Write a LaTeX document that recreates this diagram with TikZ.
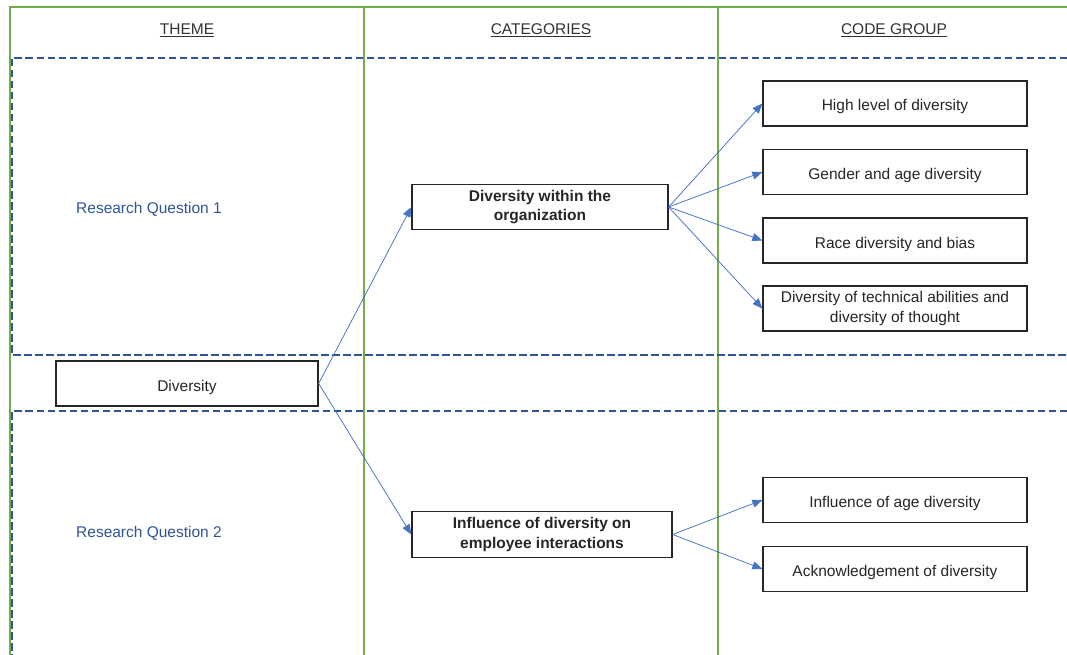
\documentclass[tikz,border=0pt]{standalone}
\usepackage{fontspec}
\setmainfont{Liberation Sans}
\usetikzlibrary{arrows.meta}
\definecolor{frameGreen}{HTML}{70AD47}
\definecolor{dashBlue}{HTML}{2F5597}
\definecolor{arrowBlue}{HTML}{4472C4}
\definecolor{headGray}{HTML}{333333}
\definecolor{textGray}{HTML}{262626}
\tikzset{
  txt/.style={font=\fontsize{15.5}{19.5}\selectfont},
  box/.style={txt, text=textGray, draw=black!85, line width=1.3pt, fill=white, align=center, inner sep=2pt},
  single/.style={text height=15pt, text depth=0pt},
  codebox/.style={box, minimum width=264pt, minimum height=45pt},
  catbox/.style={box, minimum height=45.5pt, font=\fontsize{15.5}{19.5}\selectfont\bfseries},
  greenline/.style={draw=frameGreen, line width=1.6pt},
  bluedash/.style={draw=dashBlue, line width=1.9pt, dash pattern=on 7.5pt off 3.5pt},
  conn/.style={draw=arrowBlue, line width=0.75pt, -{Triangle[length=10pt,width=8pt]}},
  header/.style={txt, text=headGray, anchor=base},
  rq/.style={txt, text=dashBlue, anchor=base}
}
\begin{document}
\begin{tikzpicture}[x=1pt,y=-1pt]
\useasboundingbox (0,0) rectangle (1067,655);
\fill[white] (0,0) rectangle (1067,655);
% green frame
\draw[greenline] (1067,7) -- (10,7) -- (10,655);
\draw[greenline] (364,7) -- (364,655);
\draw[greenline] (718,7) -- (718,655);
% dashed research-question regions
\draw[bluedash] (1067,58) -- (12,58) -- (12,355) -- (1067,355);
\draw[bluedash] (1067,411) -- (12,411) -- (12,655);
% headers
\node[header] (hTheme) at (187,35) {\underline{THEME}};
\node[header] (hCat) at (541,35) {\underline{CATEGORIES}};
\node[header] (hCode) at (894,35) {\underline{CODE GROUP}};
% research question labels
\node[rq] (rq1) at (149,213) {Research Question 1};
\node[rq] (rq2) at (149,537) {Research Question 2};
% theme
\node[box, single, minimum width=262pt, minimum height=45pt] (div) at (187,383.5) {Diversity};
% categories
\node[catbox, minimum width=256pt] (dwo) at (540,207) {Diversity within the\\organization};
\node[catbox, minimum width=260pt] (inf) at (542,534.5) {Influence of diversity on\\employee interactions};
% code groups
\node[codebox, single] (c1) at (895,103.5) {High level of diversity};
\node[codebox, single] (c2) at (895,172) {Gender and age diversity};
\node[codebox, single] (c3) at (895,240.5) {Race diversity and bias};
\node[codebox] (c4) at (895,308.5) {Diversity of technical abilities and\\diversity of thought};
\node[codebox, single] (c5) at (895,500) {Influence of age diversity};
\node[codebox, single] (c6) at (895,569) {Acknowledgement of diversity};
% connectors
\draw[conn] (div.east) -- (dwo.west);
\draw[conn] (div.east) -- (inf.west);
\foreach \t in {c1,c2,c3,c4} \draw[conn] (dwo.east) -- (\t.west);
\foreach \t in {c5,c6} \draw[conn] (inf.east) -- (\t.west);
\end{tikzpicture}
\end{document}
